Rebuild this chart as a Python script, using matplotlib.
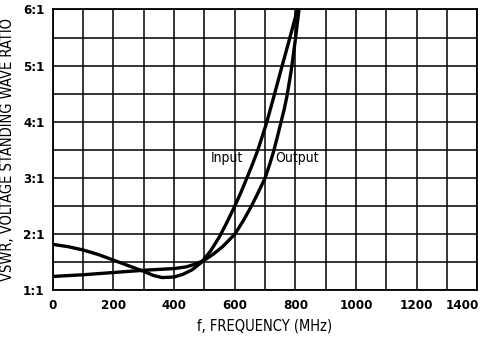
import matplotlib
matplotlib.use('Agg')
import matplotlib.pyplot as plt
from matplotlib.transforms import ScaledTranslation
import numpy as np

plt.rcParams['font.family'] = ['DejaVu Sans']
plt.rcParams['font.stretch'] = 'condensed'

# curvas (MHz, VSWR)
f_input = [0, 50, 100, 150, 200, 250, 300, 330, 360, 400, 430, 460, 490, 520, 550,
           575, 600, 620, 640, 658, 675, 690, 705, 730, 755, 781, 807]
vswr_input = [1.82, 1.78, 1.72, 1.64, 1.54, 1.44, 1.34, 1.27, 1.23, 1.24, 1.29, 1.37, 1.50, 1.70, 1.96,
              2.22, 2.50, 2.74, 3.00, 3.24, 3.48, 3.73, 3.98, 4.47, 4.97, 5.48, 6.00]

f_output = [0, 100, 200, 300, 400, 440, 470, 500, 530, 560, 600, 628, 655, 678, 700,
            715, 728, 740, 752, 763, 772, 786, 799, 812]
vswr_output = [1.25, 1.28, 1.32, 1.36, 1.39, 1.42, 1.47, 1.54, 1.65, 1.78, 2.00, 2.24, 2.50, 2.75, 3.00,
               3.24, 3.47, 3.72, 3.98, 4.22, 4.45, 4.90, 5.42, 6.00]

xticks = [0, 200, 400, 600, 800, 1000, 1200, 1400]
yticks = [1, 2, 3, 4, 5, 6]
ylabels = ['1:1', '2:1', '3:1', '4:1', '5:1', '6:1']

fig = plt.figure(figsize=(4.85, 3.37), dpi=100)
ax = fig.add_axes([0.109, 0.138, 0.875, 0.834])

ax.plot(f_input, vswr_input, color='black', lw=2.4, solid_joinstyle='round')
ax.plot(f_output, vswr_output, color='black', lw=2.4, solid_joinstyle='round')

ax.set_xlim(0, 1400)
ax.set_ylim(1, 6)
ax.set_xticks(xticks)
ax.set_xticks(np.arange(0, 1401, 100), minor=True)
ax.set_yticks(yticks)
ax.set_yticklabels(ylabels)
ax.set_yticks(np.arange(1, 6.01, 0.5), minor=True)
ax.grid(which='both', color='black', lw=1.1)
ax.tick_params(which='both', length=0)
ax.tick_params(axis='x', pad=6, labelsize=9.5)
ax.tick_params(axis='y', pad=6, labelsize=9.5)
for lbl in ax.get_xticklabels() + ax.get_yticklabels():
    lbl.set_fontweight('bold')
for s in ax.spines.values():
    s.set_linewidth(1.3)

# ultima etiqueta pegada al borde derecho
last = ax.get_xticklabels()[-1]
last.set_horizontalalignment('right')
last.set_transform(last.get_transform() + ScaledTranslation(0.02, 0, fig.dpi_scale_trans))

ax.text(573, 3.36, 'Input', ha='center', va='center', fontsize=10)
ax.text(807, 3.36, 'Output', ha='center', va='center', fontsize=10)

ax.set_xlabel('f, FREQUENCY (MHz)', fontsize=10.5, labelpad=5)
ax.set_ylabel('VSWR, VOLTAGE STANDING WAVE RATIO', fontsize=10.5, labelpad=6)

plt.savefig('out.png', dpi=100)
